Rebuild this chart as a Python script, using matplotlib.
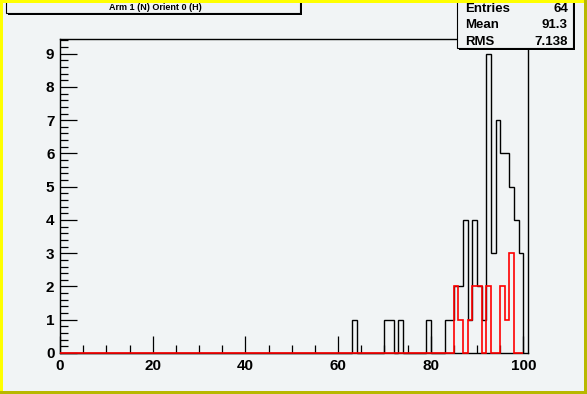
import matplotlib
matplotlib.use('Agg')
import matplotlib.pyplot as plt
from matplotlib.patches import Rectangle
from matplotlib.ticker import MultipleLocator
import numpy as np

plt.rcParams['font.family'] = ['Liberation Sans', 'DejaVu Sans']

# histogram contents (bin low edge -> count), bins of width 1 on 0..100
black_bins = [63, 70, 71, 73, 79, 83, 84, 85, 86, 87, 88, 89, 90, 91,
              92, 93, 94, 95, 96, 97, 98, 99]
black_counts = [1, 1, 1, 1, 1, 1, 1, 2, 2, 4, 1, 4, 2, 1,
                9, 3, 7, 6, 6, 5, 4, 3]
red_bins = [85, 86, 88, 89, 90, 92, 95, 96, 97]
red_counts = [2, 1, 1, 2, 2, 2, 2, 1, 3]

title = "Arm 1 (N) Orient 0 (H)"
stats_names = ["Entries", "Mean", "RMS"]
stats_values = ["64", "91.3", "7.138"]

W, H = 587, 394
bg = '#f1f4f5'

edges = np.arange(0, 101)
hb = np.zeros(100)
hb[black_bins] = black_counts
hr = np.zeros(100)
hr[red_bins] = red_counts

fig = plt.figure(figsize=(W / 100, H / 100), dpi=100)
fig.patch.set_facecolor(bg)

def px(x, y):
    # pixel (from top-left) -> figure fraction
    return x / W, 1 - y / H

ax = fig.add_axes([60 / W, 41 / H, 468 / W, 314.3 / H])
ax.set_facecolor(bg)
ax.stairs(hb, edges, color='black', lw=1.0, zorder=3, clip_on=False)
ax.stairs(hr, edges, color='red', lw=1.2, zorder=4, clip_on=False)
ax.set_xlim(0, 101)
ax.set_ylim(0, 9 * 1.05)

ax.xaxis.set_major_locator(MultipleLocator(20))
ax.xaxis.set_minor_locator(MultipleLocator(5))
ax.yaxis.set_major_locator(MultipleLocator(1))
ax.yaxis.set_minor_locator(MultipleLocator(0.2))
ax.tick_params(which='both', direction='in', top=False, right=False, width=0.9)
ax.tick_params(which='major', length=12, labelsize=11, pad=4)
ax.tick_params(which='minor', length=6)
for lab in ax.get_xticklabels() + ax.get_yticklabels():
    lab.set_fontweight('bold')
for s in ax.spines.values():
    s.set_linewidth(1.0)

# title box (cut off at the top)
x0, y0 = px(6, 13)
x1, y1 = px(300, -6)
fig.patches.append(Rectangle((x0 + 2 / W, y0 - 2 / H), x1 - x0, y1 - y0,
                             transform=fig.transFigure, facecolor='black',
                             edgecolor='black', lw=0, zorder=5))
fig.patches.append(Rectangle((x0, y0), x1 - x0, y1 - y0,
                             transform=fig.transFigure, facecolor=bg,
                             edgecolor='black', lw=0.8, zorder=6))
tx, ty = px(155, 9.5)
fig.text(tx, ty, title, ha='center', va='baseline', fontsize=6.5,
         fontweight='bold', zorder=7)

# stats box
x0, y0 = px(457, 47.5)
x1, y1 = px(573, -6)
fig.patches.append(Rectangle((x0 + 2 / W, y0 - 2 / H), x1 - x0, y1 - y0,
                             transform=fig.transFigure, facecolor='black',
                             edgecolor='black', lw=0, zorder=5))
fig.patches.append(Rectangle((x0, y0), x1 - x0, y1 - y0,
                             transform=fig.transFigure, facecolor=bg,
                             edgecolor='black', lw=0.8, zorder=6))
rows_y = [12.5, 28.5, 45]
for name, val, yy in zip(stats_names, stats_values, rows_y):
    a, b = px(465, yy)
    fig.text(a, b, name, ha='left', va='baseline', fontsize=9.5,
             fontweight='bold', zorder=7)
    a, b = px(568, yy)
    fig.text(a, b, val, ha='right', va='baseline', fontsize=9.5,
             fontweight='bold', zorder=7)

# canvas border (raised, yellow)
fig.patches.append(Rectangle((0, 1 - 2.5 / H), 1, 2.5 / H, transform=fig.transFigure,
                             facecolor='#ffff00', lw=0, zorder=8))
fig.patches.append(Rectangle((0, 0), 2.5 / W, 1, transform=fig.transFigure,
                             facecolor='#ffff00', lw=0, zorder=8))
fig.patches.append(Rectangle((0, 0), 1, 3.5 / H, transform=fig.transFigure,
                             facecolor='#b8b800', lw=0, zorder=9))
fig.patches.append(Rectangle((1 - 3.5 / W, 0), 3.5 / W, 1, transform=fig.transFigure,
                             facecolor='#b8b800', lw=0, zorder=9))

fig.savefig('out.png', dpi=100, facecolor=fig.get_facecolor())
